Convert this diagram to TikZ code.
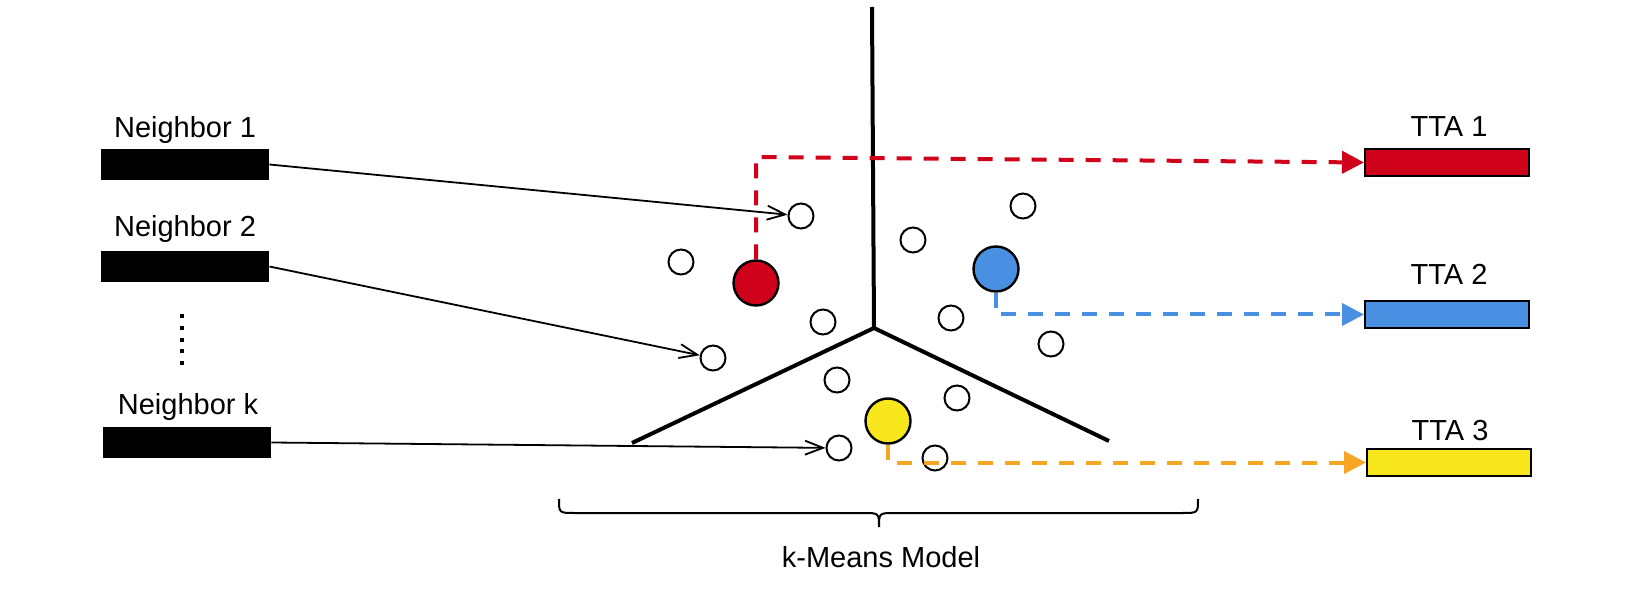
\documentclass[tikz,border=0pt]{standalone}
\usepackage{fontspec}
\setmainfont{Liberation Sans}
\usetikzlibrary{arrows.meta}
\definecolor{cred}{HTML}{D0021B}
\definecolor{cblue}{HTML}{4A90E2}
\definecolor{cyellow}{HTML}{F8E71C}
\definecolor{corange}{HTML}{F5A623}
\begin{document}
\begin{tikzpicture}[x=0.5pt,y=-0.5pt,
 lbl/.style={font=\fontsize{14.5}{17}\selectfont, anchor=base, inner sep=0pt},
 nbar/.style={fill=black, minimum width=84pt, minimum height=15.5pt, inner sep=0pt},
 ttabox/.style={draw=black, line width=1pt, minimum width=82pt, minimum height=13.5pt, inner sep=0pt},
 pt/.style={circle, draw=black, fill=white, line width=1pt, minimum size=12.5pt, inner sep=0pt},
 cent/.style={circle, draw=black, line width=1.2pt, minimum size=22.5pt, inner sep=0pt},
 feed/.style={line width=0.9pt, -{Straight Barb[length=9pt,width=7pt]}},
 assign/.style={line width=2pt, dash pattern=on 7.5pt off 6pt, -{Triangle[length=11pt,width=11pt]}},
 wall/.style={line width=2pt},
 brace/.style={line width=1pt}
]
\useasboundingbox (0,0) rectangle (1650,604);

% Voronoi walls
\coordinate (vtop) at (872,7);
\coordinate (vj) at (874,328);
\coordinate (vl) at (632,443);
\coordinate (vr) at (1109,441);
\draw[wall] (vtop) -- (vj);
\draw[wall] (vl) -- (vj) -- (vr);

% Neighbors
\node[nbar] (n1) at (185,164.5) {};
\node[nbar] (n2) at (185,266.5) {};
\node[nbar] (nk) at (187,442.5) {};
\node[lbl] (n1l) at (185,138) {Neighbor 1};
\node[lbl] (n2l) at (185,237) {Neighbor 2};
\node[lbl] (nkl) at (188,415) {Neighbor k};
\coordinate (dtop) at (182,314);
\coordinate (dbot) at (182,365);
\draw[line width=2pt, dash pattern=on 2pt off 3.9pt] (dtop) -- (dbot);

% TTA boxes
\node[ttabox, fill=cred] (t1) at (1447,162.5) {};
\node[ttabox, fill=cblue] (t2) at (1447,314.5) {};
\node[ttabox, fill=cyellow] (t3) at (1449,462.5) {};
\node[lbl] (t1l) at (1449,137) {TTA 1};
\node[lbl] (t2l) at (1449,285) {TTA 2};
\node[lbl] (t3l) at (1450,440) {TTA 3};

% data points
\node[pt] (p1) at (801,216) {};
\node[pt] (p2) at (681,262) {};
\node[pt] (p3) at (823,322) {};
\node[pt] (p4) at (713,358) {};
\node[pt] (p5) at (913,240) {};
\node[pt] (p6) at (1023,206) {};
\node[pt] (p7) at (951,318) {};
\node[pt] (p8) at (1051,344) {};
\node[pt] (p9) at (837,380) {};
\node[pt] (p10) at (957,398) {};
\node[pt] (p11) at (839,448) {};
\node[pt] (p12) at (935,458) {};

% centroids
\node[cent, fill=cred] (rc) at (756,283) {};
\node[cent, fill=cblue] (bc) at (996,269) {};
\node[cent, fill=cyellow] (yc) at (888,421) {};

% neighbor arrows
\draw[feed] (n1.east) -- (p1);
\draw[feed] (n2.east) -- (p4);
\draw[feed] (nk.east) -- (p11);

% assignment arrows
\coordinate (rbend) at (755,157);
\draw[assign, draw=cred] (rc.north) -- (rc.north |- rbend) -- (t1.west);
\draw[assign, draw=cblue] (bc.south) |- (t2.west);
\draw[assign, draw=corange] (yc.south) |- (t3.west);

% brace
\draw[brace] (559,499) .. controls (559,513) .. (575,513) -- (863,513) .. controls (879,513) .. (879,527) .. controls (879,513) .. (895,513) -- (1182,513) .. controls (1198,513) .. (1198,499);
\node[lbl] (km) at (881,567) {k-Means Model};
\end{tikzpicture}
\end{document}
